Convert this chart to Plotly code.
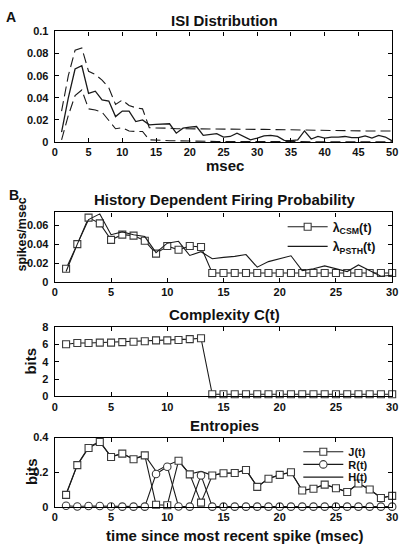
import plotly.graph_objects as go

W, H = 406, 558

# ---------------- data ----------------
isi_t = list(range(1, 51))
isi_mean = [0.009, 0.040, 0.066, 0.069, 0.044, 0.046, 0.038, 0.037, 0.023, 0.028,
            0.028, 0.0185, 0.020, 0.0155, 0.016, 0.016, 0.0165, 0.008, 0.0125, 0.0135,
            0.014, 0.006, 0.0065, 0.0075, 0.0045, 0.005, 0.0080, 0.005, 0.002, 0.0035,
            0.0056, 0.006, 0.005, 0.0015, 0.0012, 0.002, 0.010, 0.0027, 0.005, 0.0036,
            0.0045, 0.0045, 0.005, 0.004, 0.004, 0.0056, 0.0036, 0.006, 0.0045, 0.001]
isi_upper = [0.028, 0.060, 0.083, 0.085, 0.064, 0.061, 0.056, 0.049, 0.034, 0.038,
             0.033, 0.031, 0.030, 0.013, 0.0127, 0.0127, 0.0125, 0.012, 0.012, 0.0118,
             0.0118, 0.0118, 0.0117, 0.0117, 0.0116, 0.0116, 0.0116, 0.0115, 0.0115, 0.0114,
             0.0114, 0.0113, 0.0112, 0.0108, 0.0105, 0.0104, 0.0103, 0.0103, 0.0102, 0.0102,
             0.0101, 0.0101, 0.0101, 0.0100, 0.0100, 0.0100, 0.0100, 0.0100, 0.0100, 0.0100]
isi_lower = [0.002, 0.024, 0.042, 0.047, 0.030, 0.029, 0.027, 0.020, 0.012, 0.013,
             0.010, 0.0095, 0.0095, 0.002, 0.0015, 0.0015, 0.0012, 0.001, 0.001, 0.0008,
             0.0008, 0.0006, 0.0006, 0.0005, 0.0005, 0.0005, 0.0005, 0.0004, 0.0004, 0.0004,
             0.0004, 0.0004, 0.0003, 0.0003, 0.0003, 0.0003, 0.0002, 0.0002, 0.0002, 0.0002,
             0.0002, 0.0002, 0.0001, 0.0001, 0.0001, 0.0001, 0.0001, 0.0001, 0.0001, 0.0001]

t30 = list(range(1, 31))
lam_csm = [0.014, 0.040, 0.068, 0.062, 0.0445, 0.050, 0.049, 0.0435, 0.030, 0.038,
           0.034, 0.038, 0.037, 0.0095, 0.0095, 0.0095, 0.0095, 0.0095, 0.0095, 0.0095,
           0.0095, 0.0095, 0.0095, 0.0095, 0.0095, 0.0095, 0.0095, 0.0095, 0.0095, 0.0095]
lam_psth = [0.011, 0.040, 0.066, 0.072, 0.050, 0.053, 0.050, 0.048, 0.031, 0.041,
            0.043, 0.028, 0.032, 0.0245, 0.026, 0.027, 0.029, 0.0156, 0.0215, 0.025,
            0.0277, 0.012, 0.0139, 0.017, 0.0139, 0.011, 0.018, 0.012, 0.006, 0.007]

complexity = [6.0, 6.15, 6.15, 6.2, 6.2, 6.25, 6.3, 6.35, 6.45, 6.45,
              6.5, 6.6, 6.7, 0.25, 0.25, 0.25, 0.25, 0.25, 0.25, 0.25,
              0.25, 0.25, 0.25, 0.25, 0.25, 0.25, 0.25, 0.25, 0.25, 0.25]

ent_J = [0.07, 0.241, 0.34, 0.374, 0.288, 0.307, 0.275, 0.297, 0.013, 0.010,
         0.266, 0.188, 0.025, 0.181, 0.194, 0.196, 0.213, 0.116, 0.163, 0.185,
         0.200, 0.095, 0.105, 0.129, 0.108, 0.086, 0.135, 0.101, 0.052, 0.064]
ent_R = [0.007, 0.003, 0.006, 0.006, 0.003, 0.002, 0.002, 0.002, 0.190, 0.232,
         0.003, 0.002, 0.182, 0.002, 0.002, 0.002, 0.002, 0.002, 0.002, 0.002,
         0.002, 0.002, 0.002, 0.002, 0.002, 0.002, 0.002, 0.002, 0.002, 0.002]
ent_H = [0.075, 0.243, 0.345, 0.378, 0.290, 0.308, 0.277, 0.298, 0.205, 0.240,
         0.267, 0.190, 0.205, 0.182, 0.195, 0.197, 0.214, 0.117, 0.164, 0.186,
         0.201, 0.096, 0.106, 0.130, 0.109, 0.087, 0.136, 0.102, 0.053, 0.065]

# ---------------- helpers ----------------
FONT = "Liberation Sans"
LC = "#1a1a1a"
MC = "#3a3a3a"


def px(x):
    return x / W


def py(y):
    return 1 - y / H


fig = go.Figure()

# Panel A
dash = "10px,5px"
fig.add_trace(go.Scatter(x=isi_t, y=isi_upper, mode="lines", xaxis="x", yaxis="y",
                         line=dict(color=LC, width=1.1, dash=dash), showlegend=False))
fig.add_trace(go.Scatter(x=isi_t, y=isi_lower, mode="lines", xaxis="x", yaxis="y",
                         line=dict(color=LC, width=1.1, dash=dash), showlegend=False))
fig.add_trace(go.Scatter(x=isi_t, y=isi_mean, mode="lines", xaxis="x", yaxis="y",
                         line=dict(color=LC, width=1.3), showlegend=False))

# Panel B1
sq = dict(symbol="square", size=7, color="white", line=dict(color=MC, width=1.1))
ci = dict(symbol="circle", size=7.5, color="white", line=dict(color=MC, width=1.1))
fig.add_trace(go.Scatter(x=t30, y=lam_csm, mode="lines+markers", xaxis="x2", yaxis="y2",
                         line=dict(color=LC, width=1.1), marker=sq, cliponaxis=False,
                         name="λ<sub>CSM</sub>(t)", legend="legend"))
fig.add_trace(go.Scatter(x=t30, y=lam_psth, mode="lines", xaxis="x2", yaxis="y2",
                         line=dict(color=LC, width=1.1), cliponaxis=False,
                         name="λ<sub>PSTH</sub>(t)", legend="legend2"))

# Panel B2
fig.add_trace(go.Scatter(x=t30, y=complexity, mode="lines+markers", xaxis="x3", yaxis="y3",
                         line=dict(color=LC, width=1.1), marker=sq, cliponaxis=False,
                         showlegend=False))

# Panel B3
fig.add_trace(go.Scatter(x=t30, y=ent_H, mode="lines", xaxis="x4", yaxis="y4",
                         line=dict(color=LC, width=1.1), cliponaxis=False,
                         name="H(t)", legend="legend5"))
fig.add_trace(go.Scatter(x=t30, y=ent_R, mode="lines+markers", xaxis="x4", yaxis="y4",
                         line=dict(color=LC, width=1.1), marker=ci, cliponaxis=False,
                         name="R(t)", legend="legend4"))
fig.add_trace(go.Scatter(x=t30, y=ent_J, mode="lines+markers", xaxis="x4", yaxis="y4",
                         line=dict(color=LC, width=1.1), marker=sq, cliponaxis=False,
                         name="J(t)", legend="legend3"))

tickfont = dict(family=FONT, size=11, color="#111", weight="bold")
xdom = [px(53), px(398)]


def ax(**kw):
    d = dict(showline=True, linecolor="black", linewidth=1.4, mirror="ticks",
             ticks="inside", ticklen=4, tickwidth=1, tickcolor="black",
             showgrid=False, zeroline=False, tickfont=tickfont)
    d.update(kw)
    return d


def leg(x, y, size):
    return dict(x=px(x), y=py(y), xanchor="left", yanchor="middle",
                bgcolor="rgba(0,0,0,0)", borderwidth=0,
                font=dict(family=FONT, size=size, color="#111", weight="bold"),
                itemwidth=40, tracegroupgap=0)


XT = dict(ticklabelstandoff=0)
YT = dict(ticklabelstandoff=3)

fig.update_layout(
    width=W, height=H, margin=dict(l=0, r=0, t=0, b=0),
    paper_bgcolor="white", plot_bgcolor="white",
    font=dict(family=FONT, color="#111"),
    xaxis=ax(domain=xdom, range=[0, 50], tickvals=[0, 5, 10, 15, 20, 25, 30, 35, 40, 45, 50], anchor="y", **XT),
    yaxis=ax(domain=[py(139), py(26)], range=[0, 0.1], tickvals=[0, 0.02, 0.04, 0.06, 0.08, 0.1], anchor="x", **YT),
    xaxis2=ax(domain=xdom, range=[0, 30], tickvals=[0, 5, 10, 15, 20, 25, 30], anchor="y2", **XT),
    yaxis2=ax(domain=[py(282), py(211)], range=[0, 0.0735], tickvals=[0, 0.02, 0.04, 0.06], anchor="x2", **YT),
    xaxis3=ax(domain=xdom, range=[0, 30], tickvals=[0, 5, 10, 15, 20, 25, 30], anchor="y3", **XT),
    yaxis3=ax(domain=[py(399), py(328)], range=[0, 8], tickvals=[0, 2, 4, 6, 8], anchor="x3", **YT),
    xaxis4=ax(domain=xdom, range=[0, 30], tickvals=[0, 5, 10, 15, 20, 25, 30], anchor="y4", **XT),
    yaxis4=ax(domain=[py(512), py(441)], range=[0, 0.4], tickvals=[0, 0.2, 0.4], anchor="x4", **YT),
    legend=leg(286, 226, 12.5),
    legend2=leg(286, 246, 12.5),
    legend3=leg(302, 455.5, 11),
    legend4=leg(302, 468.5, 11),
    legend5=leg(302, 481.5, 11),
)

anns = [
    ("A", 8, 11, 14, 0),
    ("B", 11, 193, 14, 0),
    ("ISI Distribution", 227, 15, 15, 0),
    ("msec", 227, 163, 15, 0),
    ("History Dependent Firing Probability", 227, 198, 15, 0),
    ("spikes/msec", 19, 234, 12.5, -90),
    ("Complexity C(t)", 227, 315, 15, 0),
    ("bits", 28, 363, 15, -90),
    ("Entropies", 227, 429, 15, 0),
    ("bits", 29, 476, 15, -90),
    ("time since most recent spike (msec)", 237, 541, 15, 0),
]
for text, x, y, size, ang in anns:
    fig.add_annotation(text=text, x=px(x), y=py(y), xref="paper", yref="paper",
                       xanchor="center", yanchor="middle", showarrow=False, textangle=ang,
                       font=dict(family=FONT, size=size, color="#111", weight="bold"))

fig.write_html("out.html")
